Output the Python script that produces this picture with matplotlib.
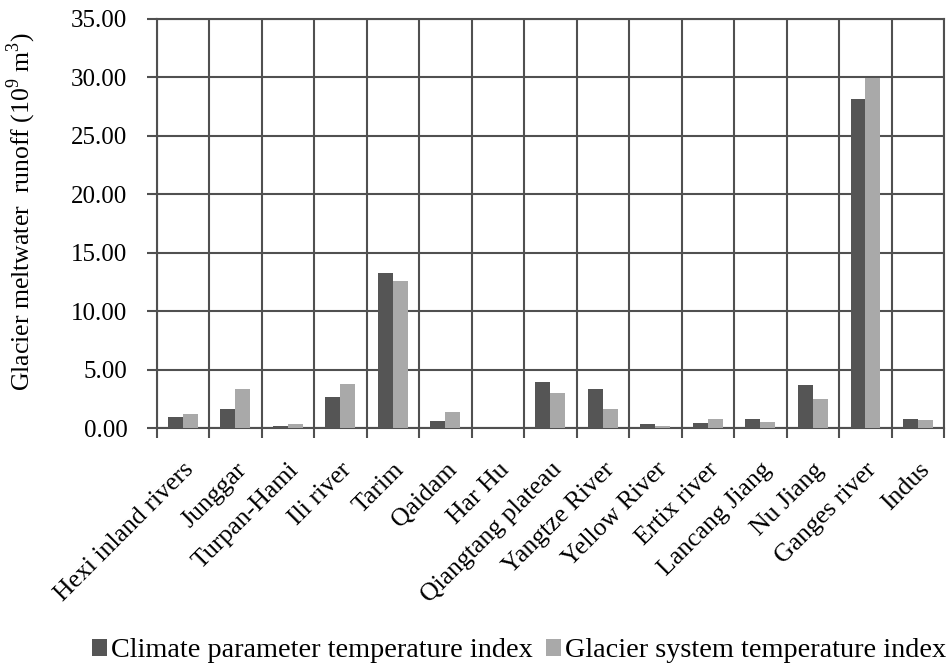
import numpy as np
import matplotlib
matplotlib.use("Agg")
import matplotlib.pyplot as plt
from matplotlib.ticker import FixedLocator, FormatStrFormatter

plt.rcParams["font.family"] = ["Liberation Serif", "DejaVu Serif"]
plt.rcParams["mathtext.fontset"] = "custom"
plt.rcParams["mathtext.rm"] = "Liberation Serif"

# basins and runoff (10^9 m^3)
basins = ["Hexi inland rivers", "Junggar", "Turpan-Hami", "Ili river", "Tarim",
          "Qaidam", "Har Hu", "Qiangtang plateau", "Yangtze River", "Yellow River",
          "Ertix river", "Lancang Jiang", "Nu Jiang", "Ganges river", "Indus"]
climate_idx = [0.96, 1.65, 0.17, 2.63, 13.23, 0.62, 0.02, 3.97, 3.31, 0.37,
               0.42, 0.79, 3.71, 28.1, 0.74]
glacier_idx = [1.25, 3.37, 0.37, 3.76, 12.57, 1.42, 0.02, 3.0, 1.61, 0.17,
               0.82, 0.54, 2.52, 29.9, 0.68]

dark = "#555555"
light = "#a9a9a9"
grid_c = "#505050"

fig = plt.figure(figsize=(9.49, 6.70), dpi=100)
ax = fig.add_axes([0.165, 0.361, 0.83, 0.611])

x = np.arange(len(basins))
w = 0.285
ax.bar(x - w / 2, climate_idx, w, color=dark, label="Climate parameter temperature index", zorder=3)
ax.bar(x + w / 2, glacier_idx, w, color=light, label="Glacier system temperature index", zorder=3)

ax.set_xlim(-0.5, len(basins) - 0.5)
ax.set_ylim(0, 35)
ax.set_yticks(np.arange(0, 36, 5))
ax.yaxis.set_major_formatter(FormatStrFormatter("%.2f"))

# category labels at centres, grid at boundaries
ax.set_xticks(x)
ax.set_xticklabels(basins, rotation=45, ha="right", rotation_mode="anchor", fontsize=18.5)
ax.xaxis.set_minor_locator(FixedLocator(np.arange(-0.5, len(basins), 1.0)))
ax.tick_params(axis="x", which="major", length=0, pad=22)
ax.tick_params(axis="x", which="minor", length=7, width=1.5, color=grid_c, direction="out")
ax.tick_params(axis="y", length=7, width=1.5, color=grid_c, direction="out", pad=14, labelsize=18)

ax.grid(axis="x", which="minor", color=grid_c, linewidth=1.5, zorder=1)
ax.grid(axis="y", which="major", color=grid_c, linewidth=1.5, zorder=1)
for s in ax.spines.values():
    s.set_color(grid_c)
    s.set_linewidth(1.5)
ax.set_axisbelow(True)

ax.set_ylabel("Glacier meltwater  runoff (10$^9$ m$^3$)", fontsize=18.5)
ax.yaxis.set_label_coords(-0.151, 0.528)

fig.legend(loc="lower center", bbox_to_anchor=(0.547, -0.015), ncol=2, frameon=False,
           fontsize=20.3, handlelength=0.55, handleheight=0.55, handletextpad=0.15,
           columnspacing=0.45, borderaxespad=0.2)

fig.savefig("out.png", dpi=100)
